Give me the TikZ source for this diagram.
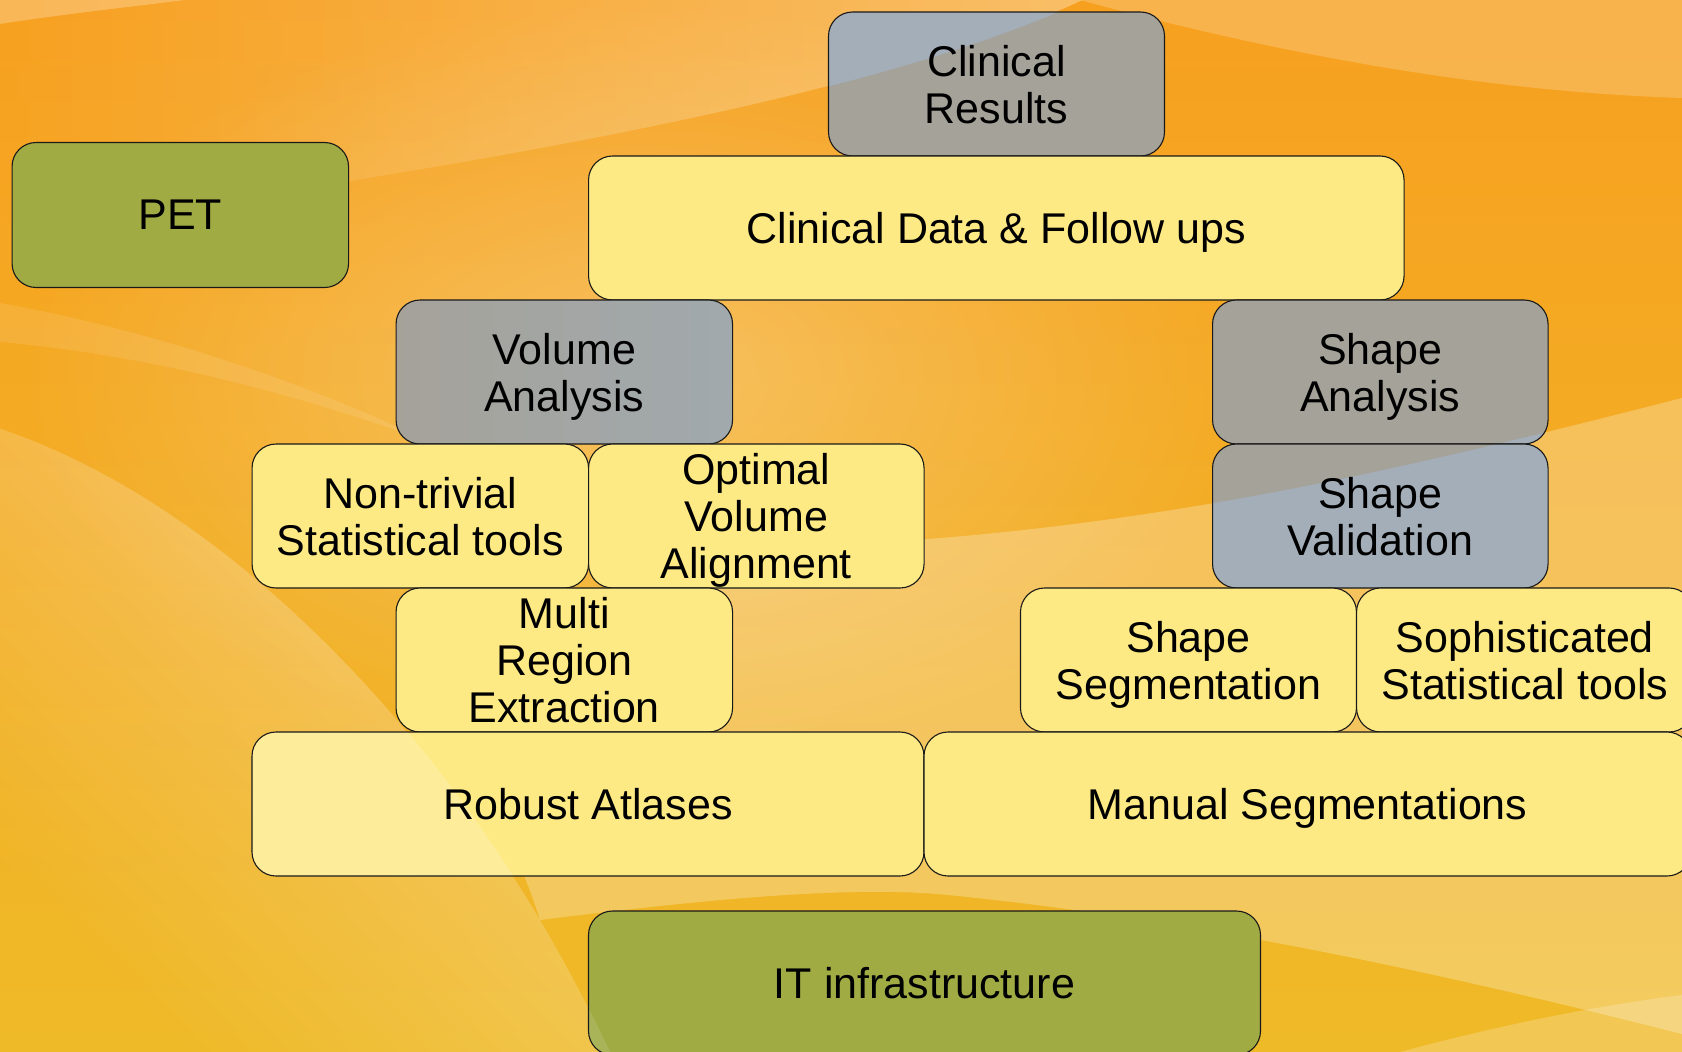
\documentclass[tikz,border=0pt]{standalone}
\usepackage{fontspec}
\setmainfont{Liberation Sans}
\usetikzlibrary{fadings}
\definecolor{bgtop}{HTML}{F7A020}
\definecolor{bgbottom}{HTML}{EFBA28}
\definecolor{cardyellow}{HTML}{FDEA84}
\definecolor{cardgreen}{HTML}{A0AB44}
\definecolor{cardgrey}{HTML}{A5A29A}
\definecolor{cardgreycool}{HTML}{A1A9AD}
\definecolor{sheen}{HTML}{A0C0E8}
\tikzfading[name=fadewest, left color=transparent!100, middle color=transparent!45, right color=transparent!0]
\tikzfading[name=fadesw, left color=transparent!100, right color=transparent!0]
\tikzfading[name=softglow, inner color=transparent!0, outer color=transparent!100]
% light sweeps of the backdrop
\def\sweepB{(0,235) .. controls (400,175) and (850,110) .. (1085,0) -- (0,0) -- cycle}
\def\sweepD{(0,428) .. controls (230,505) and (470,750) .. (610,1052) -- (0,1052) -- cycle}
\def\sweepE{(1682,398) .. controls (1400,470) and (1100,545) .. (720,548) -- (420,700) .. controls (470,760) and (515,840) .. (540,920) .. controls (700,900) and (850,885) .. (948,895) .. controls (1200,920) and (1450,975) .. (1682,1034) -- cycle}
% the same sweeps as they fall on the cards
\def\greysheen{\fill[sheen, fill opacity=0.4] \sweepB; \fill[sheen, fill opacity=0.4] \sweepE;}
\def\yellowsheen{\fill[white, fill opacity=0.18] \sweepD;}
\def\greensheen{\fill[white, fill opacity=0.1] \sweepD;}
\tikzset{
  cardface/.style={draw=none, rounded corners=24pt, inner sep=0pt, outer sep=0pt},
  cardline/.style={draw=black!90, line width=1.1pt, rounded corners=24pt, inner sep=0pt,
    outer sep=0pt, align=center, font=\fontsize{43}{47}\selectfont, text=black, text depth=0pt},
  yellowface/.style={cardface, fill=cardyellow},
  greenface/.style={cardface, fill=cardgreen},
  greyface/.style={cardface, fill=cardgrey},
  coolface/.style={cardface, left color=cardgrey, right color=cardgreycool},
  sweep/.style={fill=white, fill opacity=#1, draw=none},
}
% #1 name, #2 centre, #3 size, #4 face style, #5 sheen, #6 text
\newcommand\card[6]{%
  \node[#4, #3] (#1-face) at (#2) {};
  \begin{scope}
    \clip[rounded corners=24pt] (#1-face.south west) rectangle (#1-face.north east);
    #5
  \end{scope}
  \node[cardline, #3] (#1) at (#2) {#6};
}
\begin{document}
\begin{tikzpicture}[x=1pt,y=-1pt]
\useasboundingbox (0,0) rectangle (1682,1052);
\begin{scope}
\clip (0,0) rectangle (1682,1052);
% backdrop
\shade[top color=bgtop, bottom color=bgbottom] (0,0) rectangle (1682,1052);
\fill[white, fill opacity=0.28, path fading=softglow] (640,380) ellipse (620 and 380);
\path[sweep=0.25] (0,0) -- (185,0) .. controls (120,8) and (50,16) .. (0,24) -- cycle;
\path[sweep=0.32, path fading=fadewest] \sweepB;
\path[sweep=0.2] (1080,0) .. controls (1300,60) and (1500,92) .. (1682,98) -- (1682,0) -- cycle;
\path[sweep=0.1] (0,303) .. controls (150,330) and (300,380) .. (430,442) .. controls (300,395) and (150,355) .. (0,342) -- cycle;
\path[sweep=0.34, path fading=fadesw, fading angle=45] \sweepD;
\path[sweep=0.26] \sweepE;
\path[sweep=0.2] (1400,1052) .. controls (1500,1025) and (1600,1005) .. (1682,995) -- (1682,1052) -- cycle;

% cards
\card{results}{996.5,84}{minimum width=336pt, minimum height=144pt}{greyface}{\greysheen}{Clinical\\Results}
\card{pet}{180.3,215}{minimum width=336.5pt, minimum height=145pt}{greenface}{\greensheen}{PET}
\card{data}{996.3,228}{minimum width=815.5pt, minimum height=144pt}{yellowface}{\yellowsheen}{Clinical Data \& Follow ups}
\card{volume}{564.3,372}{minimum width=336.5pt, minimum height=144pt}{coolface}{\greysheen}{Volume\\Analysis}
\card{shape}{1380.3,372}{minimum width=335.5pt, minimum height=144pt}{greyface}{\greysheen}{Shape\\Analysis}
\card{nontrivial}{420.3,516}{minimum width=336.5pt, minimum height=144pt}{yellowface}{\yellowsheen}{Non-trivial\\Statistical tools}
\card{alignment}{756.3,516}{minimum width=335.5pt, minimum height=144pt}{yellowface}{\yellowsheen}{Optimal\\Volume\\Alignment}
\card{validation}{1380.3,516}{minimum width=335.5pt, minimum height=144pt}{greyface}{\greysheen}{Shape\\Validation}
\card{multiregion}{564.3,660}{minimum width=336.5pt, minimum height=144pt}{yellowface}{\yellowsheen}{Multi\\Region\\Extraction}
\card{segmentation}{1188.5,660}{minimum width=336pt, minimum height=144pt}{yellowface}{\yellowsheen}{Shape\\Segmentation}
\card{sophisticated}{1524.8,660}{minimum width=336.5pt, minimum height=144pt}{yellowface}{\yellowsheen}{Sophisticated\\Statistical tools}
\card{atlases}{588,804}{minimum width=672pt, minimum height=144pt}{yellowface}{\yellowsheen}{Robust Atlases}
\card{manual}{1307.5,804}{minimum width=767pt, minimum height=144pt}{yellowface}{\yellowsheen}{Manual Segmentations}
\card{infra}{924.5,983}{minimum width=672pt, minimum height=144pt}{greenface}{\greensheen}{IT infrastructure}
\end{scope}
\end{tikzpicture}
\end{document}
